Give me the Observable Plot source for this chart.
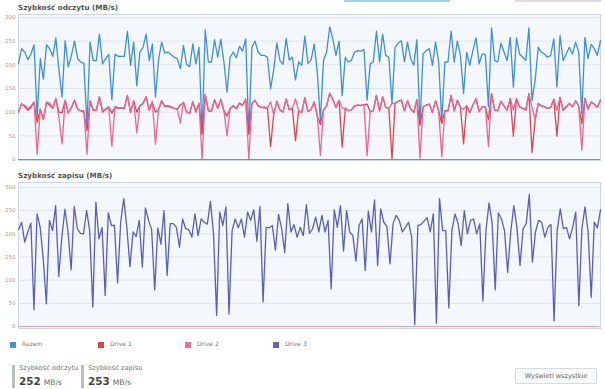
<!DOCTYPE html>
<html>
<head>
<meta charset="utf-8">
<script src="https://cdn.jsdelivr.net/npm/d3@7"></script>
<script src="https://cdn.jsdelivr.net/npm/@observablehq/plot@0.6"></script>
<style>
  html, body { margin: 0; padding: 0; background: #fff; width: 605px; height: 389px; overflow: hidden; }
  body { position: relative; font-family: "DejaVu Sans", sans-serif; }
  .abs { position: absolute; }
  .title { font-weight: bold; font-size: 7.2px; color: #555; white-space: nowrap; }
  .lg { font-size: 6px; color: #777; white-space: nowrap; }
  .sq { width: 6px; height: 6px; }
  .slabel { font-size: 6.7px; color: #777; white-space: nowrap; }
  .sval { font-size: 10.4px; font-weight: bold; color: #444; white-space: nowrap; }
  .sunit { font-size: 7.6px; font-weight: normal; color: #666; margin-left: 3px; }
  .bar { width: 3px; background: #b9bdc2; }
  .btn { border: 1px solid #d5dbe2; background: #f8fafc; border-radius: 2px; font-size: 6.5px; color: #666; text-align: center; white-space: nowrap; box-sizing: border-box; }
</style>
</head>
<body>
<div id="root"></div>
<script>
// Read speed (MB/s)
const razemRead = [
202,234,227,211,223,242,89,213,170,242,234,218,257,188,132,251,196,220,250,213,206,203,72,248,209,209,265,202,213,222,126,222,218,218,218,271,199,248,156,227,237,265,209,244,132,211,248,225,227,222,216,213,192,241,201,196,244,202,
237,54,274,206,206,253,216,254,206,142,216,227,215,239,229,255,54,237,250,227,220,220,216,149,190,246,209,201,256,210,216,168,206,199,261,203,210,244,185,82,209,227,280,255,220,250,135,216,206,210,227,230,229,232,125,202,206,271,206,265,220,216,118,237,246,
251,206,248,213,199,253,75,223,230,234,199,248,206,82,206,206,271,206,250,220,139,227,199,230,257,202,223,222,111,278,209,206,246,227,209,258,153,257,223,216,209,278,125,167,237,227,223,216,220,255,153,262,209,223,237,223,248,227,96,258,213,243,234,220,251
];
const drive1Read = [
100,118,112,104,110,120,78,106,85,120,115,108,128,100,99,125,98,110,124,106,103,100,61,123,104,105,132,100,106,110,98,110,108,109,108,135,100,123,100,113,118,132,104,121,100,105,123,112,113,110,108,106,115,120,100,98,121,100,
118,54,136,103,102,126,108,126,103,92,108,113,107,119,114,127,54,118,125,113,110,109,108,27,95,123,104,100,128,105,108,40,103,99,130,101,105,122,92,74,104,113,140,127,110,125,26,108,103,105,113,115,114,116,117,101,103,135,103,132,110,108,0,118,123,
125,103,124,106,99,126,72,111,115,117,99,124,103,76,103,103,135,103,125,110,33,113,99,115,128,101,111,111,84,139,104,103,123,113,104,129,49,128,111,108,104,139,15,83,118,113,111,108,110,127,49,131,104,111,118,111,124,113,76,129,106,121,117,110,125
];
const drive2Read = [
102,116,115,107,113,122,11,107,85,122,119,110,129,88,33,126,98,110,126,107,103,103,11,125,105,104,133,102,107,112,28,112,110,109,110,136,99,125,56,114,119,133,105,123,32,106,125,113,114,112,108,107,77,121,101,98,123,102,
119,0,138,103,104,127,108,128,103,50,108,114,108,120,115,128,0,119,125,114,110,111,108,122,95,123,105,101,128,105,108,128,103,100,131,102,105,122,93,8,105,114,140,128,110,125,109,108,103,105,114,115,115,116,8,101,103,136,103,133,110,108,118,119,123,
126,103,124,107,100,127,3,112,115,117,100,124,103,6,103,103,136,103,125,110,106,114,100,115,129,101,112,111,27,139,105,103,123,114,105,129,104,129,112,108,105,139,110,84,119,114,112,108,110,128,104,131,105,112,119,112,124,114,20,129,107,122,117,110,126
];
// Write speed (MB/s)
const drive3Write = [
209,225,182,204,223,36,243,214,146,49,229,207,261,108,193,253,204,122,259,211,201,200,250,207,42,268,189,214,67,245,218,218,94,225,276,214,129,204,194,229,128,256,229,209,79,213,178,250,110,222,222,214,171,232,211,209,193,243,196,
232,225,221,270,200,24,247,218,258,27,207,232,213,232,193,247,229,252,184,259,53,214,213,218,165,242,211,160,265,204,220,193,214,196,263,201,211,236,204,240,204,229,81,252,214,261,163,250,204,196,141,218,232,121,249,204,273,132,254,225,216,135,222,240,
229,204,214,225,193,4,218,220,227,235,204,243,7,276,207,207,40,207,243,222,175,250,200,229,232,200,222,55,207,267,222,79,245,232,207,117,204,261,214,132,211,222,285,139,204,229,225,193,214,220,12,207,254,211,214,189,214,247,45,211,258,204,63,225,213,252
];
const yTicks = [0, 50, 100, 150, 200, 250, 300];
const titles = ["Szybkość odczytu (MB/s)", "Szybkość zapisu (MB/s)"];
const legendNames = ["Razem", "Drive 1", "Drive 2", "Drive 3"];
const legendColors = ["#3f95e0", "#dc4646", "#ee6d93", "#6767c0"];
const statLabels = ["Szybkość odczytu", "Szybkość zapisu"];
const statValues = [252, 253];
const buttonText = "Wyświetl wszystkie";

const lineColors = { razem: "#3d8fdb", d1: "#d84650", d2: "#ea6690", d3: "#5a5eb6" };

function panel(lines, n, zeroColor, insetTop, insetBottom) {
  return Plot.plot({
    width: 605, height: 162,
    marginLeft: 18, marginRight: 5, marginTop: 14, marginBottom: 2,
    x: { domain: [0, n - 1], axis: null },
    y: { domain: [0, 300], insetTop, insetBottom, axis: null },
    style: { background: "transparent", fontFamily: "DejaVu Sans" },
    marks: [
      Plot.frame({ fill: "#f4f8fc", stroke: "#cdd7e2", strokeWidth: 1 }),
      Plot.gridY(yTicks.slice(1), { stroke: "#dfe4ea", strokeOpacity: 1, strokeWidth: 1 }),
      Plot.axisY(yTicks, { tickSize: 0, tickPadding: 3, fontSize: 5.5, fill: "#9a9a9a", label: null }),
      ...lines.map(([data, color]) => Plot.lineY(data, { stroke: color, strokeWidth: 1.3, strokeLinejoin: "round" })),
      Plot.ruleY([0], { stroke: zeroColor, strokeWidth: 1.2 })
    ]
  });
}

const root = document.getElementById("root");
function add(html, css, cls) {
  const d = document.createElement("div");
  d.className = "abs " + (cls || "");
  Object.assign(d.style, css);
  if (html != null) d.textContent = html;
  root.appendChild(d);
  return d;
}

// cropped UI bits at top
add(null, { left: "344px", top: "0px", width: "106px", height: "1.5px", background: "#a9cfe2" });
add(null, { left: "515px", top: "0px", width: "86px", height: "1.5px", background: "#d9dde2" });

// Panel 1
add(titles[0], { left: "18px", top: "3px" }, "title");
const p1 = panel([[razemRead, lineColors.razem], [drive1Read, lineColors.d1], [drive2Read, lineColors.d2]],
  razemRead.length, "#8587c4", 3, 1);
p1.style.position = "absolute"; p1.style.left = "0px"; p1.style.top = "0px";
root.appendChild(p1);

// Panel 2
add(titles[1], { left: "18px", top: "171px" }, "title");
const p2 = panel([[drive3Write, lineColors.d3]], drive3Write.length, "#e2a4b6", 5, 2);
p2.style.position = "absolute"; p2.style.left = "0px"; p2.style.top = "168px";
root.appendChild(p2);

// Legend
const lgX = [10, 98, 185, 273];
legendNames.forEach((name, i) => {
  add(null, { left: lgX[i] + "px", top: "341.5px", background: legendColors[i] }, "sq");
  add(name, { left: (lgX[i] + 12) + "px", top: "340px" }, "lg");
});

// Stats
const stX = [12, 81];
statLabels.forEach((lab, i) => {
  add(null, { left: stX[i] + "px", top: "365px", height: "23px" }, "bar");
  add(lab, { left: (stX[i] + 7) + "px", top: "364px" }, "slabel");
  const v = add(null, { left: (stX[i] + 7) + "px", top: "375px" }, "sval");
  v.innerHTML = statValues[i] + '<span class="sunit">MB/s</span>';
});

// Button
const b = add(buttonText, { left: "515px", top: "367.5px", width: "82px", height: "16px", lineHeight: "14px" }, "btn");
</script>
</body>
</html>
